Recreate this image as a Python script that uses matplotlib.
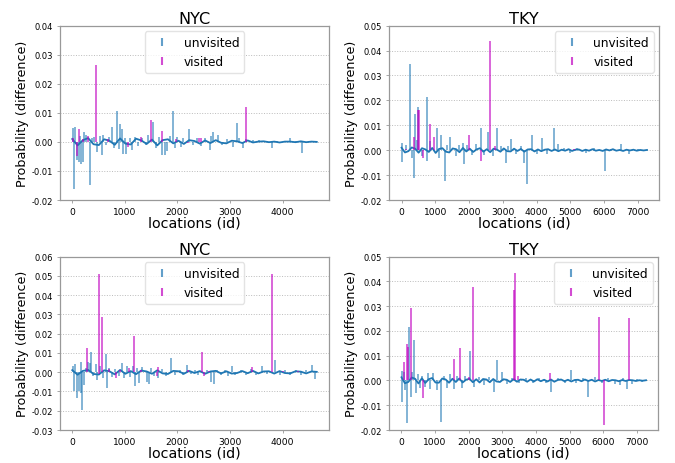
import numpy as np
import matplotlib
matplotlib.use("Agg")
import matplotlib.pyplot as plt
from matplotlib.lines import Line2D
from matplotlib.ticker import FormatStrFormatter

# ---------------- data ----------------
titles = ["NYC", "TKY", "NYC", "TKY"]
n_locations = [4650, 7270, 4650, 7270]
ylims = [(-0.02, 0.04), (-0.02, 0.05), (-0.03, 0.06), (-0.02, 0.05)]
xticks_nyc = [0, 1000, 2000, 3000, 4000]
xticks_tky = [0, 1000, 2000, 3000, 4000, 5000, 6000, 7000]
legend_locs = ["upper center", "upper right", "upper center", "upper right"]

# panel 1: NYC (top)
nyc1_unv_loc = [13, 25, 57, 89, 120, 150, 171, 209, 215, 260, 330, 380, 412, 470, 520, 564, 580, 640, 700, 754,
                790, 849, 880, 913, 944, 963, 1000, 1027, 1090, 1141, 1200, 1260, 1330, 1400, 1450, 1530, 1600,
                1650, 1705, 1768, 1800, 1850, 1907, 1950, 2000, 2060, 2100, 2212, 2300, 2380, 2450, 2520, 2619,
                2640, 2682, 2777, 2850, 2950, 3063, 3126, 3180, 3240, 3300, 3430, 3550, 3700, 3792, 3900, 4050,
                4141, 4250, 4363, 4500]
nyc1_unv_val = [0.0048, -0.0163, 0.0052, -0.0063, -0.0069, 0.0022, -0.0075, -0.0069, 0.0034, 0.0025, -0.0147,
                0.0015, 0.0017, -0.0035, 0.0020, -0.0046, 0.0023, -0.0012, 0.0018, 0.0052, -0.0020, 0.0107,
                -0.0025, 0.0063, 0.0046, -0.0040, 0.0015, -0.0040, 0.0012, -0.0029, 0.0016, -0.0015, 0.0014,
                -0.0012, 0.0025, 0.0067, -0.0020, 0.0018, -0.0046, -0.0046, -0.0030, 0.0020, 0.0107, -0.0022,
                0.0018, -0.0018, 0.0012, 0.0045, -0.0012, 0.0015, -0.0015, 0.0012, -0.0028, 0.0020, 0.0035,
                0.0025, -0.0010, 0.0010, -0.0017, 0.0065, 0.0012, -0.0020, 0.0010, 0.0005, 0.0005, 0.0004,
                -0.0020, 0.0004, 0.0003, 0.0012, 0.0003, -0.0038, 0.0002]
nyc1_vis_loc = [6, 82, 127, 200, 298, 450, 685, 1053, 1300, 1490, 1712, 1972, 2207, 2410, 2440, 3304]
nyc1_vis_val = [0.0015, -0.0047, 0.0045, 0.0010, 0.0022, 0.0265, 0.0010, -0.0018, 0.0018, 0.0076, 0.0039,
                0.0010, -0.0005, 0.0015, 0.0012, 0.0121]
nyc1_base = [0.0010, -0.0012, 0.0006, 0.0013, -0.0008, -0.0011, 0.0009, 0.0004, -0.0010, 0.0012, -0.0006,
             -0.0009, 0.0011, 0.0005, -0.0007, 0.0008, -0.0012, 0.0006, 0.0009, -0.0005, 0.0004, -0.0007,
             0.0006, 0.0003, -0.0006, 0.0005, -0.0004, 0.0006, -0.0003, -0.0005, 0.0004, 0.0002, -0.0004,
             0.0005, -0.0002, 0.0001, 0.0002, -0.0001, 0.0001, -0.0002, 0.0001, 0.0001, -0.0001, 0.0002,
             -0.0001, 0.0001, 0.0000]

# panel 2: TKY (top)
tky1_unv_loc = [5, 15, 120, 249, 300, 369, 399, 449, 479, 600, 748, 758, 857, 1037, 1100, 1167, 1296, 1350,
                1446, 1600, 1700, 1815, 1844, 1950, 2100, 2200, 2363, 2450, 2562, 2700, 2832, 2950, 3081, 3160,
                3240, 3400, 3550, 3639, 3709, 3858, 4000, 4157, 4300, 4506, 4636, 4800, 5000, 5200, 5450, 5700,
                6032, 6200, 6500, 6750, 7000]
tky1_unv_val = [0.0030, -0.0048, 0.0020, 0.0347, -0.0030, -0.0112, 0.0147, 0.0040, 0.0175, -0.0025, 0.0212,
                -0.0045, 0.0035, 0.0088, -0.0030, 0.0060, -0.0123, 0.0020, 0.0055, -0.0025, 0.0020, 0.0028,
                -0.0055, 0.0020, -0.0020, 0.0025, 0.0088, -0.0020, 0.0073, -0.0025, 0.0090, 0.0015, -0.0050,
                0.0015, 0.0045, -0.0015, 0.0015, -0.0050, -0.0135, 0.0062, -0.0015, 0.0050, -0.0015, 0.0088,
                0.0025, 0.0010, -0.0012, 0.0010, -0.0010, 0.0008, -0.0083, 0.0006, 0.0025, -0.0015, 0.0006]
tky1_vis_loc = [120, 369, 498, 520, 628, 857, 967, 2004, 2343, 2622, 2762, 5100]
tky1_vis_val = [0.0006, 0.0055, 0.0162, 0.0160, -0.0033, 0.0107, 0.0055, 0.0060, -0.0045, 0.0438, 0.0017, 0.0005]
tky1_base = [0.0010, -0.0009, -0.0004, 0.0011, 0.0006, -0.0010, 0.0008, 0.0003, -0.0007, 0.0009, -0.0011,
             0.0005, 0.0008, -0.0006, -0.0009, 0.0007, 0.0004, -0.0008, 0.0009, -0.0005, 0.0006, -0.0007,
             0.0003, 0.0008, -0.0006, 0.0004, -0.0008, 0.0006, 0.0002, -0.0006, 0.0007, -0.0004, -0.0005,
             0.0006, -0.0003, 0.0005, -0.0006, 0.0003, 0.0004, -0.0005, 0.0003, -0.0004, 0.0002, 0.0004,
             -0.0003, 0.0003, -0.0004, 0.0002, -0.0002, 0.0004, -0.0003, 0.0002, 0.0003, -0.0003, 0.0002,
             -0.0002, 0.0004, -0.0002, 0.0001, -0.0003, 0.0003, -0.0001, 0.0004, -0.0002, 0.0001, -0.0003,
             0.0002, -0.0001, 0.0002, -0.0002, 0.0001, -0.0001, 0.0001]

# panel 3: NYC (bottom)
nyc2_unv_loc = [19, 35, 60, 82, 133, 165, 175, 190, 222, 260, 304, 330, 349, 400, 444, 480, 530, 590, 640, 666,
                700, 760, 820, 880, 938, 980, 1033, 1100, 1150, 1192, 1240, 1274, 1330, 1414, 1458, 1500, 1560,
                1640, 1700, 1780, 1876, 1950, 2040, 2100, 2174, 2250, 2330, 2400, 2560, 2637, 2694, 2750, 2820,
                2900, 2960, 3030, 3100, 3200, 3300, 3400, 3500, 3600, 3700, 3854, 3950, 4050, 4150, 4250, 4350,
                4450, 4551, 4614]
nyc2_unv_val = [0.0030, -0.0100, 0.0045, -0.0132, -0.0095, -0.0110, 0.0052, -0.0197, -0.0065, 0.0020, 0.0052,
                0.0050, 0.0103, -0.0020, 0.0045, -0.0040, 0.0030, -0.0030, 0.0095, -0.0083, 0.0020, -0.0025,
                0.0015, -0.0020, 0.0047, -0.0030, 0.0035, -0.0025, 0.0030, -0.0072, 0.0020, -0.0057, 0.0025,
                -0.0050, -0.0060, 0.0020, -0.0020, -0.0030, 0.0015, -0.0020, 0.0075, -0.0012, 0.0012, -0.0015,
                0.0040, -0.0010, 0.0010, -0.0012, 0.0012, -0.0050, -0.0060, 0.0012, -0.0015, 0.0010, -0.0020,
                0.0032, -0.0012, 0.0010, -0.0015, 0.0015, -0.0012, 0.0032, -0.0010, 0.0065, -0.0015, 0.0012,
                -0.0015, 0.0010, -0.0012, 0.0010, 0.0038, -0.0035]
nyc2_vis_loc = [273, 500, 513, 564, 700, 830, 900, 1084, 1179, 1300, 1610, 1623, 2200, 2460, 2504, 2600, 3423,
                3791, 4000, 4300]
nyc2_vis_val = [0.0125, -0.0008, 0.0512, 0.0285, 0.0015, -0.0030, 0.0010, 0.0020, 0.0187, 0.0010, -0.0020,
                0.0025, 0.0010, 0.0105, -0.0020, 0.0008, 0.0025, 0.0512, 0.0008, 0.0008]
nyc2_base = [0.0011, -0.0013, 0.0007, 0.0012, -0.0009, -0.0012, 0.0010, 0.0005, -0.0011, 0.0012, -0.0008,
             0.0006, -0.0010, 0.0009, 0.0004, -0.0008, 0.0010, -0.0006, -0.0009, 0.0007, 0.0005, -0.0008,
             0.0007, -0.0004, 0.0006, -0.0008, 0.0004, 0.0007, -0.0006, 0.0005, -0.0007, -0.0004, 0.0006,
             -0.0005, 0.0007, -0.0006, 0.0004, 0.0005, -0.0007, 0.0006, -0.0004, -0.0006, 0.0005, 0.0003,
             -0.0006, 0.0004, 0.0002]

# panel 4: TKY (bottom)
tky2_unv_loc = [10, 20, 60, 100, 150, 229, 269, 300, 369, 420, 480, 550, 620, 700, 780, 850, 950, 1050, 1167,
                1250, 1350, 1450, 1550, 1650, 1800, 1900, 2044, 2150, 2300, 2450, 2600, 2742, 2842, 2991, 3150,
                3300, 3500, 3700, 3900, 4100, 4300, 4457, 4650, 4850, 5035, 5200, 5400, 5553, 5753, 5950, 6150,
                6350, 6500, 6600, 6700, 6850, 7000, 7150]
tky2_unv_val = [-0.0088, 0.0040, 0.0035, -0.0040, -0.0170, 0.0216, -0.0068, 0.0035, 0.0162, -0.0050, 0.0025,
                -0.0030, 0.0020, -0.0025, 0.0030, -0.0035, 0.0030, -0.0040, -0.0168, 0.0020, -0.0030, 0.0025,
                -0.0035, 0.0020, -0.0030, 0.0020, 0.0120, -0.0025, 0.0015, -0.0020, 0.0015, -0.0045, 0.0082,
                0.0035, -0.0015, 0.0010, -0.0012, 0.0010, -0.0010, 0.0012, -0.0010, -0.0045, 0.0010, -0.0012,
                0.0043, -0.0010, 0.0012, -0.0068, 0.0015, -0.0012, 0.0010, -0.0015, -0.0020, 0.0010, -0.0035,
                -0.0015, 0.0008, -0.0008]
tky2_vis_loc = [80, 169, 199, 269, 628, 1565, 1735, 2014, 2134, 3340, 3370, 3460, 4407, 5882, 6022, 6750]
tky2_vis_val = [0.0073, 0.0148, 0.0135, 0.0292, -0.0072, 0.0088, 0.0132, 0.0015, 0.0377, 0.0365, 0.0433,
                0.0018, 0.0030, 0.0257, -0.0178, 0.0253]
tky2_base = [0.0013, -0.0011, -0.0006, 0.0012, 0.0007, -0.0012, 0.0009, -0.0010, 0.0005, 0.0010, -0.0008,
             -0.0009, 0.0008, 0.0004, -0.0009, 0.0007, -0.0006, 0.0008, -0.0008, 0.0003, 0.0007, -0.0007,
             0.0005, -0.0008, 0.0006, 0.0004, -0.0007, 0.0006, -0.0004, -0.0006, 0.0005, 0.0003, -0.0006,
             0.0005, -0.0005, 0.0004, 0.0003, -0.0005, 0.0004, -0.0004, 0.0005, -0.0003, 0.0003, -0.0004,
             0.0004, -0.0005, 0.0002, 0.0004, -0.0003, 0.0003, -0.0004, 0.0002, 0.0003, -0.0003, 0.0004,
             -0.0002, 0.0003, -0.0004, 0.0002, -0.0002, 0.0003, -0.0003, 0.0002, 0.0001, -0.0003, 0.0002,
             -0.0002, 0.0002, 0.0001, -0.0002, 0.0001, -0.0001, 0.0001]

panels = [
    (nyc1_unv_loc, nyc1_unv_val, nyc1_vis_loc, nyc1_vis_val, nyc1_base),
    (tky1_unv_loc, tky1_unv_val, tky1_vis_loc, tky1_vis_val, tky1_base),
    (nyc2_unv_loc, nyc2_unv_val, nyc2_vis_loc, nyc2_vis_val, nyc2_base),
    (tky2_unv_loc, tky2_unv_val, tky2_vis_loc, tky2_vis_val, tky2_base),
]

# ---------------- style ----------------
BLUE = "#1f77b4"
MAGENTA = "#c000c0"
plt.rcParams["font.family"] = ["DejaVu Sans"]

fig = plt.figure(figsize=(6.75, 4.64), dpi=100)
rects = [
    [0.0889, 0.5668, 0.3985, 0.3757],
    [0.5767, 0.5668, 0.4000, 0.3757],
    [0.0889, 0.0711, 0.3985, 0.3735],
    [0.5767, 0.0711, 0.3985, 0.3735],
]

for i, (uloc, uval, vloc, vval, base) in enumerate(panels):
    ax = fig.add_axes(rects[i])
    nmax = n_locations[i]
    base_loc = np.linspace(0, nmax, len(base))
    ax.plot(base_loc, base, color=BLUE, lw=1.3, zorder=3)
    ax.vlines(uloc, 0, uval, color=BLUE, alpha=0.65, lw=1.2, zorder=2)
    ax.vlines(vloc, 0, vval, color=MAGENTA, alpha=0.65, lw=1.3, zorder=4)
    ax.margins(x=0.05)
    ax.set_ylim(*ylims[i])
    lo, hi = ylims[i]
    ax.set_yticks(np.round(np.arange(lo, hi + 1e-9, 0.01), 2))
    ax.yaxis.set_major_formatter(FormatStrFormatter("%.2f"))
    ax.set_xticks(xticks_nyc if titles[i] == "NYC" else xticks_tky)
    ax.grid(axis="y", linestyle=":", color="#bbbbbb", lw=0.7)
    ax.set_axisbelow(True)
    for s in ax.spines.values():
        s.set_color("#999999")
        s.set_linewidth(0.9)
    ax.tick_params(length=2.5, width=0.6, color="#999999", pad=2.5)
    ax.tick_params(axis="x", labelsize=6.6)
    ax.tick_params(axis="y", labelsize=6.0)
    ax.set_title(titles[i], fontsize=11.6, pad=2)
    ax.set_xlabel("locations (id)", fontsize=10.3, labelpad=0)
    ax.set_ylabel("Probability (difference)", fontsize=9.2, labelpad=2)
    handles = [
        Line2D([], [], ls="none", marker="|", markersize=6, mew=1.5, color=BLUE, alpha=0.7),
        Line2D([], [], ls="none", marker="|", markersize=6, mew=1.5, color=MAGENTA, alpha=0.7),
    ]
    ax.legend(handles, ["unvisited", "visited"], loc=legend_locs[i], fontsize=8.7,
              borderaxespad=0.45, framealpha=0.8, edgecolor="#dddddd")

fig.savefig("out.png", dpi=100)
